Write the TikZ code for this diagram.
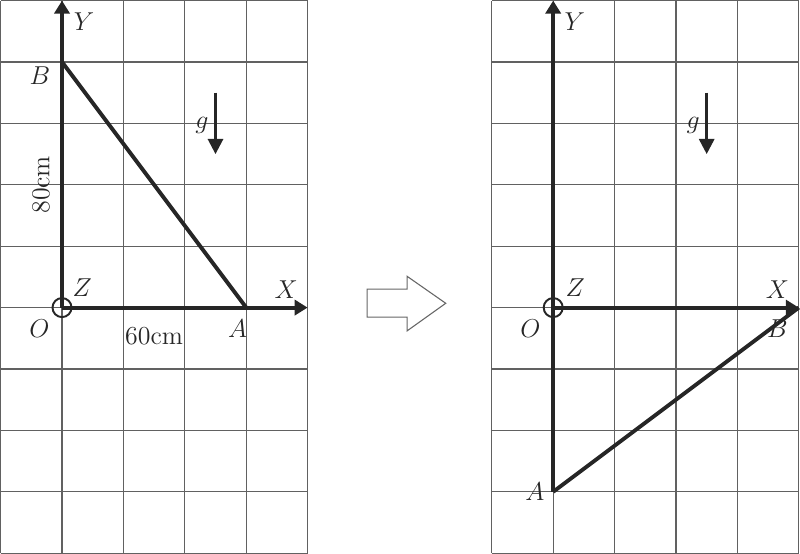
\documentclass[tikz,border=0pt]{standalone}
\usetikzlibrary{arrows.meta}
\begin{document}
\begin{tikzpicture}[
  gridline/.style={line width=0.55pt, draw=black!62},
  axis/.style={line width=1.8pt, draw=black!85, -{Triangle[length=6pt,width=7pt]}},
  side/.style={line width=1.8pt, draw=black!85},
  garrow/.style={line width=1.2pt, draw=black!85, -{Triangle[length=7pt,width=7pt]}},
  lbl/.style={font=\fontsize{12}{14}\selectfont, text=black!85, inner sep=0pt},
  origin/.style={circle, draw=black!85, line width=0.9pt, minimum size=0.31cm, inner sep=0pt},
  bigarrow/.style={draw=black!60, line width=0.5pt, fill=white, line join=miter}
]
\useasboundingbox (-1.01,-4.01) rectangle (12.02,5.01);
% grids
\draw[gridline] (-1,-4) grid (4,5);
\draw[gridline] (7,-4) grid (12,5);
% left picture points
\coordinate (O1) at (0,0);
\coordinate (A1) at (3,0);
\coordinate (B1) at (0,4);
\coordinate (X1) at (4,0);
\coordinate (Y1) at (0,5);
\coordinate (gt1) at (2.5,3.5);
\coordinate (gb1) at (2.5,2.5);
% right picture points
\coordinate (O2) at (8,0);
\coordinate (A2) at (8,-3);
\coordinate (B2) at (12,0);
\coordinate (X2) at (12,0);
\coordinate (Y2) at (8,5);
\coordinate (gt2) at (10.5,3.5);
\coordinate (gb2) at (10.5,2.5);
% left drawing
\draw[axis] (O1) -- (X1);
\draw[axis] (O1) -- (Y1);
\draw[side] (A1) -- (B1);
\draw[garrow] (gt1) -- (gb1);
\node[origin] (Oc1) at (O1) {};
% right drawing
\draw[axis] (O2) -- (X2);
\draw[axis] (O2) -- (Y2);
\draw[side] (O2) -- (A2);
\draw[side] (A2) -- (B2);
\draw[garrow] (gt2) -- (gb2);
\node[origin] (Oc2) at (O2) {};
% left labels
\node[lbl] (Yl1) at (0.36,4.65) {$Y$};
\node[lbl] (Bl1) at (-0.36,3.78) {$B$};
\node[lbl] (Zl1) at (0.33,0.32) {$Z$};
\node[lbl] (Xl1) at (3.65,0.29) {$X$};
\node[lbl] (Ol1) at (-0.37,-0.35) {$O$};
\node[lbl] (Al1) at (2.86,-0.35) {$A$};
\node[lbl] (d60) at (1.5,-0.46) {60cm};
\node[lbl, rotate=90] (d80) at (-0.34,2.0) {80cm};
\node[lbl] (gl1) at (2.28,2.97) {$g$};
% right labels
\node[lbl] (Yl2) at (8.35,4.65) {$Y$};
\node[lbl] (Zl2) at (8.36,0.32) {$Z$};
\node[lbl] (Xl2) at (11.65,0.29) {$X$};
\node[lbl] (Ol2) at (7.63,-0.35) {$O$};
\node[lbl] (Bl2) at (11.65,-0.34) {$B$};
\node[lbl] (Al2) at (7.7,-3.0) {$A$};
\node[lbl] (gl2) at (10.28,2.97) {$g$};
% transition arrow
\draw[bigarrow] (4.97,0.30) -- (5.62,0.30) -- (5.62,0.51) -- (6.25,0.07)
  -- (5.62,-0.38) -- (5.62,-0.155) -- (4.97,-0.155) -- cycle;
\end{tikzpicture}
\end{document}
